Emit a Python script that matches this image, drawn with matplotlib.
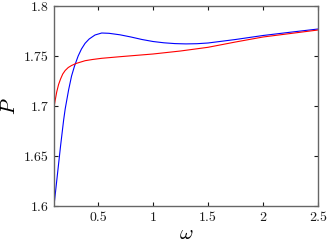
import matplotlib
matplotlib.use("Agg")
import matplotlib.pyplot as plt

# omega values and P for the two curves
omega_bleu = [0.1, 0.13, 0.16, 0.188, 0.202, 0.233, 0.26, 0.287, 0.32, 0.35, 0.383, 0.42,
              0.473, 0.534, 0.6, 0.7, 0.8, 0.9, 1.0, 1.1, 1.2, 1.3, 1.4, 1.5,
              1.75, 2.0, 2.25, 2.5]
P_bleu = [1.600, 1.630, 1.660, 1.686, 1.697, 1.716, 1.730, 1.740, 1.750, 1.757, 1.7627, 1.767,
          1.771, 1.7730, 1.7727, 1.7712, 1.7690, 1.7665, 1.7645, 1.7632, 1.7624, 1.7621, 1.7623, 1.7630,
          1.7665, 1.7705, 1.7738, 1.7770]

omega_rouge = [0.1, 0.11, 0.125, 0.142, 0.16, 0.18, 0.202, 0.23, 0.26, 0.3, 0.383, 0.45, 0.534, 0.7,
               0.8, 1.0, 1.25, 1.5, 1.75, 2.0, 2.25, 2.5]
P_rouge = [1.698, 1.705, 1.714, 1.7215, 1.727, 1.732, 1.7355, 1.7385, 1.7405, 1.7425, 1.7453, 1.7465, 1.7477, 1.7493,
           1.7502, 1.752, 1.755, 1.7587, 1.7640, 1.7690, 1.7725, 1.7760]

xticks = [0.5, 1, 1.5, 2, 2.5]
yticks = [1.6, 1.65, 1.7, 1.75, 1.8]

plt.rcParams['font.family'] = 'serif'
plt.rcParams['font.serif'] = ['cmr10', 'DejaVu Serif']
plt.rcParams['mathtext.fontset'] = 'cm'

fig = plt.figure(figsize=(3.27, 2.46), dpi=100)
ax = fig.add_axes([0.165, 0.1626, 0.8075, 0.813])

ax.plot(omega_bleu, P_bleu, color=(0, 0, 1), linewidth=0.8)
ax.plot(omega_rouge, P_rouge, color=(1, 0, 0), linewidth=0.8)

ax.set_xlim(0.1, 2.5)
ax.set_ylim(1.6, 1.8)
ax.set_xticks(xticks)
ax.set_xticklabels([f"{t:g}" for t in xticks])
ax.set_yticks(yticks)
ax.set_yticklabels([f"{t:g}" for t in yticks])

ax.tick_params(direction='in', length=3, width=0.8, top=True, right=True,
               labelsize=10, colors='0.1', pad=4)
for spine in ax.spines.values():
    spine.set_color('0.4')
    spine.set_linewidth(1.0)

ax.set_xlabel(r'$\omega$', fontsize=15, labelpad=1)
ax.set_ylabel(r'$P$', fontsize=15, labelpad=3)

fig.savefig("out.png", dpi=100)
